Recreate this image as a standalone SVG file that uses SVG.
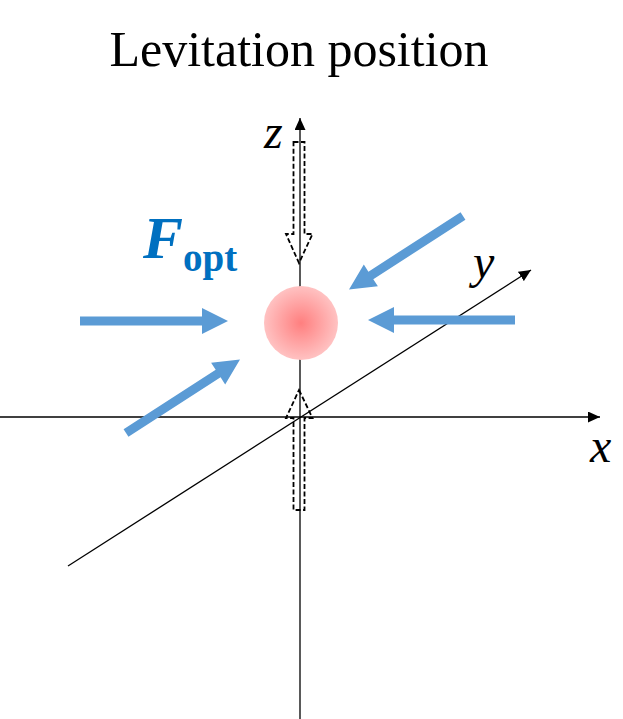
<svg xmlns="http://www.w3.org/2000/svg" width="623" height="719" viewBox="0 0 623 719">
<defs>
<style>
.axis{stroke:#000;stroke-width:1.3;fill:none}
.dash{stroke:#000;stroke-width:1.8;stroke-dasharray:5,2.5;fill:none}
.force{fill:#5B9BD5}
.lbl{font-family:"Liberation Serif","Times New Roman",serif;font-style:italic;font-size:48px;fill:#000}
</style>
<marker id="ah" viewBox="0 0 12 11" refX="12" refY="5.5" markerWidth="12" markerHeight="11" markerUnits="userSpaceOnUse" orient="auto">
<path d="M0,0 L12,5.5 L0,11 Z" fill="#000"/>
</marker>
<radialGradient id="pg" cx="0.5" cy="0.5" r="0.5">
<stop offset="0" stop-color="#FF7F7F"/>
<stop offset="1" stop-color="#FFC2C2"/>
</radialGradient>
</defs>
<rect width="623" height="719" fill="#fff"/>
<g id="title"><text x="299" y="66" text-anchor="middle" font-family="'Liberation Serif','Times New Roman',serif" font-size="50">Levitation position</text></g>
<g id="connectors">
<line class="axis" x1="0" y1="417" x2="600" y2="417" marker-end="url(#ah)"/>
<line class="axis" x1="300" y1="719" x2="300" y2="118" marker-end="url(#ah)"/>
<line class="axis" x1="68" y1="566" x2="531" y2="270" marker-end="url(#ah)"/>
</g>
<g id="particle"><circle cx="301" cy="323" r="37" fill="url(#pg)"/></g>
<g id="dashed-arrow-top"><polygon class="dash" points="293.5,142 304.5,142 304.5,234 312.5,234 299,263 286,234 293.5,234"/></g>
<g id="dashed-arrow-bottom"><polygon class="dash" points="299,390 312.5,418 304.5,418 304.5,510 293.5,510 293.5,418 286,418"/></g>
<g id="force-left"><path class="force" d="M80,316.5 L202,316.5 L202,308 L228,321 L202,334 L202,325.5 L80,325.5 Z"/></g>
<g id="force-right"><path class="force" d="M515,315.5 L394,315.5 L394,307 L368,320 L394,333 L394,324.5 L515,324.5 Z"/></g>
<g id="force-lower-left"><g transform="translate(240,359.5) rotate(-32.8)"><path class="force" d="M0,0 L-26,13 L-26,4.5 L-135.6,4.5 L-135.6,-4.5 L-26,-4.5 L-26,-13 Z"/></g></g>
<g id="force-upper-right"><g transform="translate(349,289.5) rotate(147.2)"><path class="force" d="M0,0 L-26,13 L-26,4.5 L-135.6,4.5 L-135.6,-4.5 L-26,-4.5 L-26,-13 Z"/></g></g>
<g id="label-z"><text class="lbl" x="264" y="148">z</text></g>
<g id="label-y"><text class="lbl" x="473" y="278">y</text></g>
<g id="label-x"><text class="lbl" x="590" y="462">x</text></g>
<g id="label-fopt"><text font-family="'Liberation Serif','Times New Roman',serif" font-weight="bold" fill="#0070C0"><tspan x="143" y="258" font-style="italic" font-size="60">F</tspan><tspan x="183" y="271" font-size="39">opt</tspan></text></g>
</svg>
